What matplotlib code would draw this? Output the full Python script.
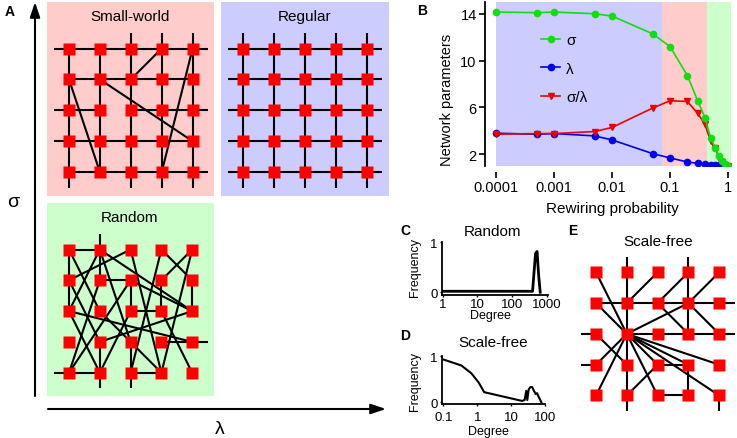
import matplotlib
matplotlib.use('Agg')
import matplotlib.pyplot as plt
from matplotlib.patches import Rectangle

plt.rcParams['font.family'] = ['Liberation Sans', 'DejaVu Sans']

W, H = 737, 439

# ---- panel B data ----
rewiring_p = [0.0001, 0.0005, 0.001, 0.005, 0.01, 0.05, 0.1, 0.2, 0.3, 0.4,
              0.5, 0.6, 0.7, 0.8, 0.9, 1.0]
sigma = [14.14, 14.09, 14.14, 14.0, 13.8, 12.29, 11.2, 8.71, 6.57, 5.14,
         3.43, 2.57, 1.86, 1.43, 1.14, 1.0]
lam = [3.8, 3.71, 3.77, 3.57, 3.23, 2.06, 1.69, 1.34, 1.23, 1.17,
       1.11, 1.10, 1.08, 1.06, 1.04, 1.02]
ratio = [3.71, 3.77, 3.77, 3.94, 4.29, 5.94, 6.57, 6.51, 5.49, 4.57,
         3.14, 2.57, 1.71, 1.37, 1.09, 1.0]
regime_edges = [0.0001, 0.0736, 0.435, 1.13]
regime_colors = ['#ccccff', '#ffcccc', '#ccffcc']

# ---- panel C / D data ----
deg_random = [1, 385, 430, 470, 520, 575, 640]
freq_random = [0.02, 0.02, 0.45, 0.78, 0.82, 0.35, 0.0]
deg_sf = [0.1, 0.34, 0.67, 1.1, 1.6, 21, 25, 28, 30, 33, 37, 42, 47, 53, 58, 65, 78]
freq_sf = [0.93, 0.8, 0.63, 0.43, 0.22, 0.03, 0.05, 0.25, 0.05, 0.28, 0.33,
           0.33, 0.25, 0.18, 0.2, 0.12, 0.0]

# ---- networks (grid coordinates: column, row; row 0 at top) ----
regular_edges = [((-0.5, r), (4.5, r)) for r in range(5)] + \
                [((c, -0.5), (c, 4.5)) for c in range(5)]

smallworld_edges = [
    ((-0.5, 0), (4.5, 0)), ((0, 1), (4, 1)), ((-0.5, 2), (1, 2)), ((2, 2), (4.5, 2)),
    ((-0.5, 3), (4, 3)), ((0, 4), (4.5, 4)),
    ((0, 0), (0, 4.5)), ((1, 0), (1, 4)), ((2, -0.5), (2, 4.5)),
    ((3, -0.5), (3, 4.5)), ((4, -0.5), (4, 4.5)),
    ((4, 0), (3, 4)), ((3, 0), (2, 1)), ((0, 1), (1, 4)), ((1, 1), (4, 3)),
]

random_edges = [
    ((1, -0.5), (1, 0)), ((1, 4), (1, 4.5)), ((2, 4), (2, 4.5)),
    ((-0.5, 4), (0, 4)), ((4, 3), (4.5, 3)),
    ((0, 0), (1, 0)), ((0, 0), (0, 2)), ((0, 0), (1, 2)), ((1, 0), (1, 1)),
    ((1, 0), (0, 2)), ((1, 0), (4, 2)), ((1, 0), (2, 3)), ((2, 0), (0, 1)),
    ((2, 0), (3, 4)), ((3, 0), (2, 4)), ((3, 0), (4, 1)), ((4, 0), (3, 1)),
    ((4, 0), (3, 4)), ((1, 1), (2, 1)), ((2, 1), (4, 2)), ((2, 1), (0, 4)),
    ((2, 1), (2, 2)), ((3, 1), (3, 2)), ((4, 1), (4, 2)), ((0, 1), (1, 3)),
    ((1, 1), (0, 4)), ((0, 2), (4, 3)), ((0, 2), (1, 4)), ((2, 2), (3, 2)),
    ((3, 2), (4, 4)), ((4, 2), (1, 3)), ((2, 2), (1, 4)), ((1, 3), (1, 4)),
    ((2, 3), (2, 4)), ((3, 3), (4, 3)), ((0, 4), (1, 4)), ((2, 4), (3, 4)),
    ((1, 2), (3, 4)),
]

scalefree_edges = [
    ((1, -0.5), (1, 4.5)), ((3, -0.5), (3, 2)), ((3, 3), (3, 4)), ((4, 4), (4, 4.5)),
    ((0, 1), (4.5, 1)), ((-0.5, 2), (0, 2)), ((1, 2), (4.5, 2)),
    ((-0.5, 3), (0, 3)), ((2, 3), (3, 3)), ((2, 4), (3, 4)),
    ((1, 2), (0, 0)), ((1, 2), (0, 1)), ((1, 2), (3, 1)), ((1, 2), (0, 3)),
    ((1, 2), (0, 4)), ((1, 2), (2, 4)), ((1, 2), (2, 3)), ((1, 2), (3, 3)),
    ((1, 2), (4, 3)), ((1, 2), (4, 4)),
    ((2, 0), (1, 1)), ((3, 0), (2, 1)), ((4, 0), (3, 1)), ((2, 1), (3, 2)),
    ((3, 1), (4, 2)), ((0, 2), (1, 3)), ((2, 3), (1, 4)),
]


def fx(x):
    return x / W


def fy(y):
    return 1 - y / H


def draw_net(ax, x0, y0, step, edges):
    for a, b in edges:
        ax.plot([x0 + a[0] * step, x0 + b[0] * step],
                [y0 + a[1] * step, y0 + b[1] * step],
                color='k', lw=1.5, solid_capstyle='butt', zorder=2)
    for c in range(5):
        for r in range(5):
            ax.plot(x0 + c * step, y0 + r * step, 's', ms=8.6, color='#ff0000',
                    mec='none', zorder=3)


fig = plt.figure(figsize=(W / 100, H / 100), dpi=100)

# ---- panel A and E drawn in pixel space ----
base = fig.add_axes([0, 0, 1, 1])
base.set_xlim(0, W)
base.set_ylim(H, 0)
base.axis('off')

for (x, y, w, h, col) in [(47, 3, 167, 194, '#ffcccc'), (221, 3, 168, 194, '#ccccff'),
                          (47, 204, 167, 193, '#ccffcc')]:
    base.add_patch(Rectangle((x, y), w, h, color=col, lw=0, zorder=1))

draw_net(base, 69, 49.5, 30.9, smallworld_edges)
draw_net(base, 243, 49.5, 30.9, regular_edges)
draw_net(base, 69, 250.5, 30.8, random_edges)
draw_net(base, 596, 273.3, 30.8, scalefree_edges)

base.text(130, 17, 'Small-world', fontsize=11, ha='center', va='center')
base.text(305, 17, 'Regular', fontsize=11, ha='center', va='center')
base.text(130, 218, 'Random', fontsize=11, ha='center', va='center')
base.text(658, 242, 'Scale-free', fontsize=11, ha='center', va='center')

arrow = dict(arrowstyle='-|>,head_length=0.9,head_width=0.3', lw=1.5, color='k',
             shrinkA=0, shrinkB=0)
base.annotate('', xy=(35, 3), xytext=(35, 397), arrowprops=arrow)
base.annotate('', xy=(386, 410), xytext=(48, 410), arrowprops=arrow)
base.text(13, 203, 'σ', fontsize=14, ha='center', va='center')
base.text(220, 430, 'λ', fontsize=14, ha='center', va='center')

for lab, x, y in [('A', 10, 12), ('B', 422, 11), ('C', 405, 231),
                  ('D', 405, 336), ('E', 573, 231)]:
    base.text(x, y, lab, fontsize=10, fontweight='bold', ha='center', va='center')

# ---- panel B ----
axb = fig.add_axes([fx(485), fy(167), (731 - 485) / W, (167 - 3) / H])
axb.set_xscale('log')
axb.set_xlim(10 ** -4.19, 10 ** 0.052)
axb.set_ylim(1, 15)
for i, col in enumerate(regime_colors):
    axb.axvspan(regime_edges[i], regime_edges[i + 1], ymin=0, ymax=1, color=col, lw=0, zorder=0)
h_lam, = axb.plot(rewiring_p, lam, '-o', color='#0000ee', ms=4.5, lw=1.2, label='λ', zorder=3)
h_rat, = axb.plot(rewiring_p, ratio, '-v', color='#ee0000', ms=5, lw=1.2, label='σ/λ', zorder=4)
h_sig, = axb.plot(rewiring_p, sigma, '-o', color='#11dd11', ms=4.5, lw=1.2, label='σ', zorder=5)
axb.legend(handles=[h_sig, h_lam, h_rat], loc='upper left',
           bbox_to_anchor=(fx(541), fy(34)), bbox_transform=fig.transFigure,
           frameon=False, fontsize=11, handlelength=1.25, handletextpad=0.4,
           labelspacing=0.95, borderpad=0, borderaxespad=0)
axb.set_xticks([0.0001, 0.001, 0.01, 0.1, 1])
axb.set_xticklabels(['0.0001', '0.001', '0.01', '0.1', '1'])
axb.minorticks_off()
axb.set_yticks([2, 6, 10, 14])
for s in ['top', 'right']:
    axb.spines[s].set_visible(False)
axb.spines['bottom'].set_position(('outward', 4.3))
axb.spines['bottom'].set_visible(False)
axb.spines['left'].set_linewidth(1.3)
axb.tick_params(labelsize=10.5, length=4, width=1.2, pad=2)
fig.text(fx(447), fy(100), 'Network parameters', fontsize=10.5, rotation=90,
         ha='center', va='center')
fig.text(fx(612), fy(209), 'Rewiring probability', fontsize=11, ha='center', va='center')

# ---- panel C ----
axc = fig.add_axes([fx(441.7), fy(296), (548 - 441.7) / W, (296 - 243) / H])
axc.set_xscale('log')
axc.set_xlim(10 ** -0.03, 10 ** 3.03)
axc.set_ylim(-0.055, 1.01)
axc.plot(deg_random, freq_random, color='k', lw=2)
axc.set_xticks([1, 10, 100, 1000])
axc.set_xticklabels(['1', '10', '100', '1000'])
axc.set_yticks([0, 1])
axc.minorticks_off()
axc.set_facecolor('none')

# ---- panel D ----
axd = fig.add_axes([fx(441.7), fy(405), (545 - 441.7) / W, (405 - 356.7) / H])
axd.set_xscale('log')
axd.set_xlim(10 ** -1.05, 10 ** 2.0)
axd.set_ylim(-0.037, 1.013)
axd.plot(deg_sf, freq_sf, color='k', lw=1.5)
axd.set_xticks([0.1, 1, 10, 100])
axd.set_xticklabels(['0.1', '1', '10', '100'])
axd.set_yticks([0, 1])
axd.minorticks_off()
axd.set_facecolor('none')

for ax in (axc, axd):
    for s in ['top', 'right']:
        ax.spines[s].set_visible(False)
    ax.spines['left'].set_linewidth(1.3)
    ax.spines['bottom'].set_linewidth(1.3)
    ax.tick_params(labelsize=9.5, length=1.5, width=1)
    ax.tick_params(axis='y', pad=1.2)
axc.tick_params(axis='x', pad=0.8)
axd.tick_params(axis='x', pad=3.5)

fig.text(fx(493), fy(232), 'Random', fontsize=11, ha='center', va='center')
fig.text(fx(493), fy(343), 'Scale-free', fontsize=11, ha='center', va='center')
fig.text(fx(415), fy(268), 'Frequency', fontsize=9, rotation=90, ha='center', va='center')
fig.text(fx(415), fy(382), 'Frequency', fontsize=9, rotation=90, ha='center', va='center')
fig.text(fx(490), fy(316), 'Degree', fontsize=9, ha='center', va='center')
fig.text(fx(488), fy(432), 'Degree', fontsize=9, ha='center', va='center')

fig.savefig('out.png', dpi=100)
